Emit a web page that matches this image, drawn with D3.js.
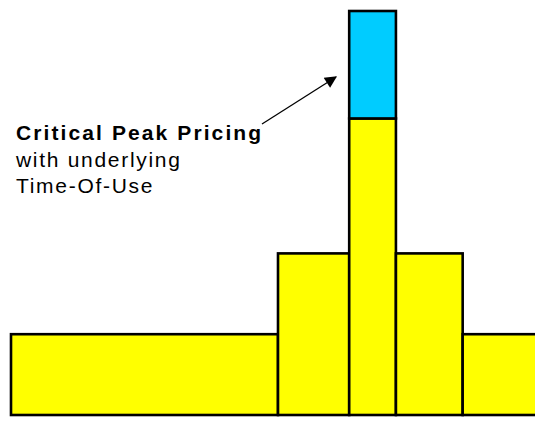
<!DOCTYPE html>
<html>
<head>
<meta charset="utf-8">
<script src="https://cdn.jsdelivr.net/npm/d3@7"></script>
<style>
  html, body { margin: 0; padding: 0; background: #fff; }
  svg { display: block; }
</style>
</head>
<body>
<svg id="chart" width="535" height="427"></svg>
<script>
// Time periods over a day (hours) and price levels
const periods = ["Off-Peak", "Mid-Peak", "Peak", "Mid-Peak", "Off-Peak"];
const periodStart = [0, 12, 15.2, 17.3, 20.3];
const periodEnd = [12, 15.2, 17.3, 20.3, 24];
const touPrice = [10, 20, 36.7, 20, 10];      // underlying Time-Of-Use level
const cppPrice = [null, null, 50, null, null]; // critical peak level

const annotationLines = ["Critical Peak Pricing", "with underlying", "Time-Of-Use"];

const svg = d3.select("#chart");
const x = d3.scaleLinear().domain([0, 24]).range([11, 545]);
const y = d3.scaleLinear().domain([0, 50]).range([415, 11]);

const data = periods.map((p, i) => ({
  name: p, s: periodStart[i], e: periodEnd[i], tou: touPrice[i], cpp: cppPrice[i]
}));

const g = svg.append("g");

g.selectAll("rect.tou").data(data).join("rect")
  .attr("class", "tou")
  .attr("x", d => x(d.s))
  .attr("width", d => x(d.e) - x(d.s))
  .attr("y", d => y(d.tou))
  .attr("height", d => y(0) - y(d.tou))
  .attr("fill", "#ffff00")
  .attr("stroke", "#000")
  .attr("stroke-width", 2.6);

g.selectAll("rect.cpp").data(data.filter(d => d.cpp != null)).join("rect")
  .attr("class", "cpp")
  .attr("x", d => x(d.s))
  .attr("width", d => x(d.e) - x(d.s))
  .attr("y", d => y(d.cpp))
  .attr("height", d => y(d.tou) - y(d.cpp))
  .attr("fill", "#00ccff")
  .attr("stroke", "#000")
  .attr("stroke-width", 2.6);

// Annotation text
const txt = svg.append("text")
  .attr("y", 140)
  .attr("font-family", "Liberation Sans, Arial, sans-serif")
  .attr("font-size", 21)
  .attr("fill", "#000");
annotationLines.forEach((t, i) => {
  txt.append("tspan")
    .attr("x", 16)
    .attr("dy", i === 0 ? 0 : 26.5)
    .attr("font-weight", i === 0 ? "bold" : "normal")
    .attr("letter-spacing", i === 0 ? 2.1 : 1.7)
    .text(t);
});

// Arrow
svg.append("defs").append("marker")
  .attr("id", "arrow")
  .attr("viewBox", "0 0 10 10")
  .attr("refX", 9).attr("refY", 5)
  .attr("markerWidth", 16).attr("markerHeight", 12)
  .attr("markerUnits", "userSpaceOnUse")
  .attr("orient", "auto")
  .append("path")
  .attr("d", "M0,0 L10,5 L0,10 Z")
  .attr("fill", "#000");

svg.append("line")
  .attr("x1", 262).attr("y1", 124)
  .attr("x2", 336).attr("y2", 77)
  .attr("stroke", "#000")
  .attr("stroke-width", 1.3)
  .attr("marker-end", "url(#arrow)");
</script>
</body>
</html>
